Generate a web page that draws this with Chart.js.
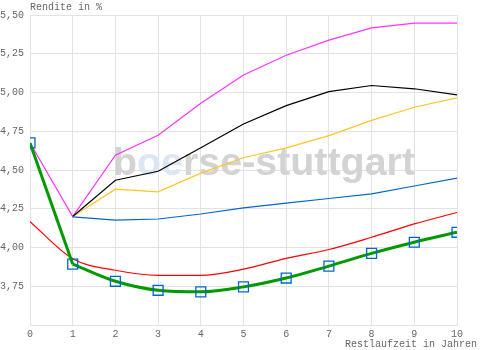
<!DOCTYPE html>
<html>
<head>
<meta charset="utf-8">
<script src="https://cdn.jsdelivr.net/npm/chart.js@4"></script>
<style>
    html, body { margin:0; padding:0; background:#fff; }
    #wrap { width:500px; height:350px; }
</style>
</head>
<body>
<div id="wrap"><canvas id="chart" width="500" height="350"></canvas></div>
<script>
/* ---------- DATA ---------- */
const years = [0,1,2,3,4,5,6,7,8,9,10];
const yTicks = [3.50,3.75,4.00,4.25,4.50,4.75,5.00,5.25,5.50];

const curve   = [4.675,3.893,3.782,3.724,3.714,3.746,3.803,3.880,3.962,4.034,4.098];
const red     = [4.167,3.928,3.853,3.820,3.820,3.860,3.930,3.987,4.066,4.152,4.226];
const blue    = [null,4.197,4.177,4.184,4.216,4.256,4.286,4.316,4.346,4.397,4.447];
const magenta = [4.675,4.199,4.596,4.724,4.931,5.113,5.240,5.338,5.417,5.447,5.447];
const black   = [null,4.200,4.434,4.492,4.643,4.797,4.915,5.006,5.045,5.024,4.985];
const yellow  = [null,4.200,4.376,4.359,4.480,4.579,4.643,4.722,4.820,4.905,4.966];

const FONT = "'Liberation Mono', 'DejaVu Sans Mono', monospace";
const GRID = "#e3e3e3";
const TXT = "#666";

const pts = arr => years.map((x,i)=>({x, y:arr[i]})).filter(p=>p.y!==null);

function line(label, data, color, extra){
    return Object.assign({
        label, data,
        borderColor: color, backgroundColor: color,
        borderWidth: 1.2, pointRadius: 0, tension: 0, fill: false
    }, extra || {});
}

const marker = {
    pointRadius:7, pointStyle:"rect", pointBorderColor:"#0066cc",
    pointBackgroundColor:"rgba(0,0,0,0)", pointBorderWidth:1.3
};

/* ---------- WATERMARK + TITLES ---------- */
const decor = {
    id: "decor",
    beforeDatasetsDraw(c){
        const ctx = c.ctx;
        ctx.save();
        ctx.font = "bold 38px 'Liberation Sans', Arial, sans-serif";
        ctx.textBaseline = "alphabetic";
        const parts = [["b","#d3d3d3"],["oe","#dce7f3"],["rse-stuttgart","#d3d3d3"]];
        const full = parts.map(p=>p[0]).join("");
        const sx = 302 / ctx.measureText(full).width;
        ctx.translate(113, 175);
        ctx.scale(sx, 1);
        let x = 0;
        parts.forEach(([t,col])=>{
            ctx.fillStyle = col;
            ctx.fillText(t, x, 0);
            x += ctx.measureText(t).width;
        });
        ctx.restore();
    },
    afterDraw(c){
        const ctx = c.ctx;
        ctx.save();
        ctx.font = "10px " + FONT;
        ctx.fillStyle = TXT;
        ctx.textBaseline = "middle";
        ctx.textAlign = "left";
        ctx.fillText("Rendite in %", 30, 7);
        ctx.textAlign = "right";
        ctx.fillText("Restlaufzeit in Jahren", 477, 344);
        ctx.restore();
    }
};

/* ---------- CHART ---------- */
const curvePts = pts(curve);

new Chart(document.getElementById("chart"),{
    type:"line",
    data:{
        datasets:[
            // first stretch 0-1 is drawn straight, the rest smooth
            line("Kurve 0-1", curvePts.slice(0,2), "#009900",
                Object.assign({borderWidth:3}, marker, {pointRadius:[7,0]})),
            line("Kurve", curvePts.slice(1), "#009900",
                Object.assign({borderWidth:3, cubicInterpolationMode:"monotone"}, marker)),
            line("Rot", pts(red), "#ff0000", {cubicInterpolationMode:"monotone"}),
            line("Blau", pts(blue), "#0066cc"),
            line("Schwarz", pts(black), "#000000"),
            line("Gelb", pts(yellow), "#ffc526"),
            line("Magenta", pts(magenta), "#ff33ff")
        ]
    },
    options:{
        responsive:false,
        animation:false,
        layout:{padding:{top:15,right:43,left:0,bottom:0}},
        plugins:{legend:{display:false}, tooltip:{enabled:false}},
        scales:{
            x:{
                type:"linear", min:0, max:10,
                afterBuildTicks: s => { s.ticks = years.map(v=>({value:v})); },
                afterFit: s => { s.height = 25; },
                grid:{color:GRID, drawTicks:false},
                border:{color:GRID},
                ticks:{font:{family:FONT,size:10}, color:TXT, padding:3, maxRotation:0}
            },
            y:{
                min:3.5, max:5.5,
                afterBuildTicks: s => { s.ticks = yTicks.map(v=>({value:v})); },
                afterFit: s => { s.width = 30; },
                grid:{color:GRID, drawTicks:false},
                border:{color:GRID},
                ticks:{
                    font:{family:FONT,size:10}, color:TXT, padding:6,
                    callback: v => v === 3.5 ? "" : v.toFixed(2).replace(".", ",")
                }
            }
        }
    },
    plugins:[decor]
});
</script>
</body>
</html>
